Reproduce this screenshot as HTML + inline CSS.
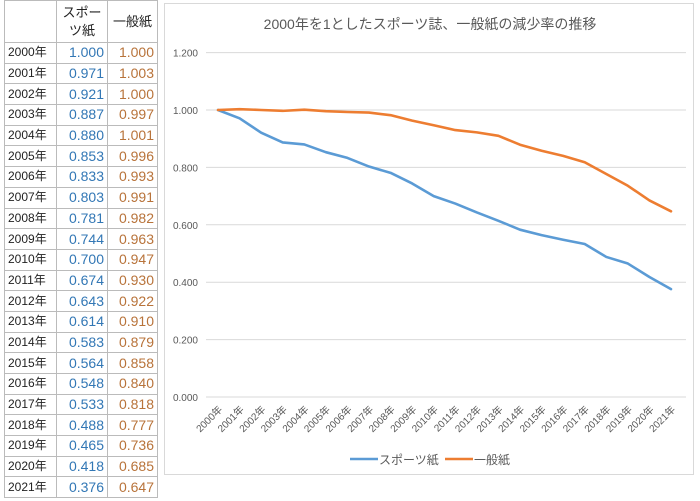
<!DOCTYPE html>
<html><head><meta charset="utf-8">
<style>
body{margin:0;width:700px;height:501px;background:#fff;font-family:"Liberation Sans","Noto Sans CJK JP",sans-serif;overflow:hidden;position:relative}
table{position:absolute;left:4px;top:0;border-collapse:collapse;font-size:13px}
td{border:1px solid #bbb;height:19.7px;padding:0 3px;line-height:19px}
td.y{width:45px;color:#222;font-size:12px}
td.s{width:44px;text-align:right;color:#3277b5;font-size:14px}
td.g{width:43px;text-align:right;color:#b8733a;font-size:14px}
tr.h td{height:41px;text-align:center;color:#222;font-size:13px;line-height:18px}
#chart{position:absolute;left:164px;top:3px;width:530px;height:472px;border:1px solid #d9d9d9;box-sizing:border-box}
</style></head><body>
<table>
<tr class="h"><td class="y"></td><td>スポー<br>ツ紙</td><td>一般紙</td></tr>
<tbody id="tb"></tbody>
</table>
<div id="chart"></div>
<svg id="svg" width="700" height="501" style="position:absolute;left:0;top:0"></svg>
<script>
const years=["2000年","2001年","2002年","2003年","2004年","2005年","2006年","2007年","2008年","2009年","2010年","2011年","2012年","2013年","2014年","2015年","2016年","2017年","2018年","2019年","2020年","2021年"];
const sports=[1.000,0.971,0.921,0.887,0.880,0.853,0.833,0.803,0.781,0.744,0.700,0.674,0.643,0.614,0.583,0.564,0.548,0.533,0.488,0.465,0.418,0.376];
const general=[1.000,1.003,1.000,0.997,1.001,0.996,0.993,0.991,0.982,0.963,0.947,0.930,0.922,0.910,0.879,0.858,0.840,0.818,0.777,0.736,0.685,0.647];
const yTicks=[0,0.2,0.4,0.6,0.8,1.0,1.2];
const NS="http://www.w3.org/2000/svg";
const tb=document.getElementById('tb');
years.forEach((y,i)=>{
 const tr=document.createElement('tr');
 
 
 tr.innerHTML='<td class="y">'+y+'</td><td class="s">'+sports[i].toFixed(3)+'</td><td class="g">'+general[i].toFixed(3)+'</td>';
 tb.appendChild(tr);
});
const svg=document.getElementById('svg');
const x0=218,x1=671,yb=397,yt=52.6;
const xs=i=>x0+(x1-x0)*i/(years.length-1);
const ys=v=>yb-(yb-yt)*v/1.2;
function el(t,a,txt){const e=document.createElementNS(NS,t);for(const k in a)e.setAttribute(k,a[k]);if(txt!=null)e.textContent=txt;svg.appendChild(e);return e;}
const title=el('text',{x:430,y:29,'text-anchor':'middle','font-size':'14','fill':'#595959','font-family':'Liberation Sans, Noto Sans CJK JP, sans-serif'},'2000年を1としたスポーツ誌、一般紙の減少率の推移');


yTicks.forEach(v=>{
 const g=el('line',{x1:206,x2:686,y1:ys(v),y2:ys(v),stroke:'#d9d9d9','stroke-width':1});
 
 
 const t=el('text',{x:198,y:ys(v)+4,'text-anchor':'end','font-size':'10','fill':'#595959'},v.toFixed(3));
 
 
});
years.forEach((y,i)=>{
 const t=el('text',{x:xs(i)+5,y:410,'text-anchor':'end','font-size':'10','fill':'#595959',transform:'rotate(-45 '+(xs(i)+5)+' 410)','font-family':'Liberation Sans, Noto Sans CJK JP, sans-serif'},y);
 
 
});
function line(d,c,n){const p=el('polyline',{points:d.map((v,i)=>xs(i)+','+ys(v)).join(' '),fill:'none',stroke:c,'stroke-width':2.6,'stroke-linejoin':'round','stroke-linecap':'round'});
 
 }
line(sports,'#5b9bd5','sports-line');
line(general,'#ed7d31','general-line');
const l1=el('line',{x1:350,x2:378,y1:459,y2:459,stroke:'#5b9bd5','stroke-width':2.6});


const t1=el('text',{x:379,y:464,'font-size':'12','fill':'#595959','font-family':'Liberation Sans, Noto Sans CJK JP, sans-serif'},'スポーツ紙');


const l2=el('line',{x1:445,x2:473,y1:459,y2:459,stroke:'#ed7d31','stroke-width':2.6});


const t2=el('text',{x:474,y:464,'font-size':'12','fill':'#595959','font-family':'Liberation Sans, Noto Sans CJK JP, sans-serif'},'一般紙');


</script>
</body></html>
